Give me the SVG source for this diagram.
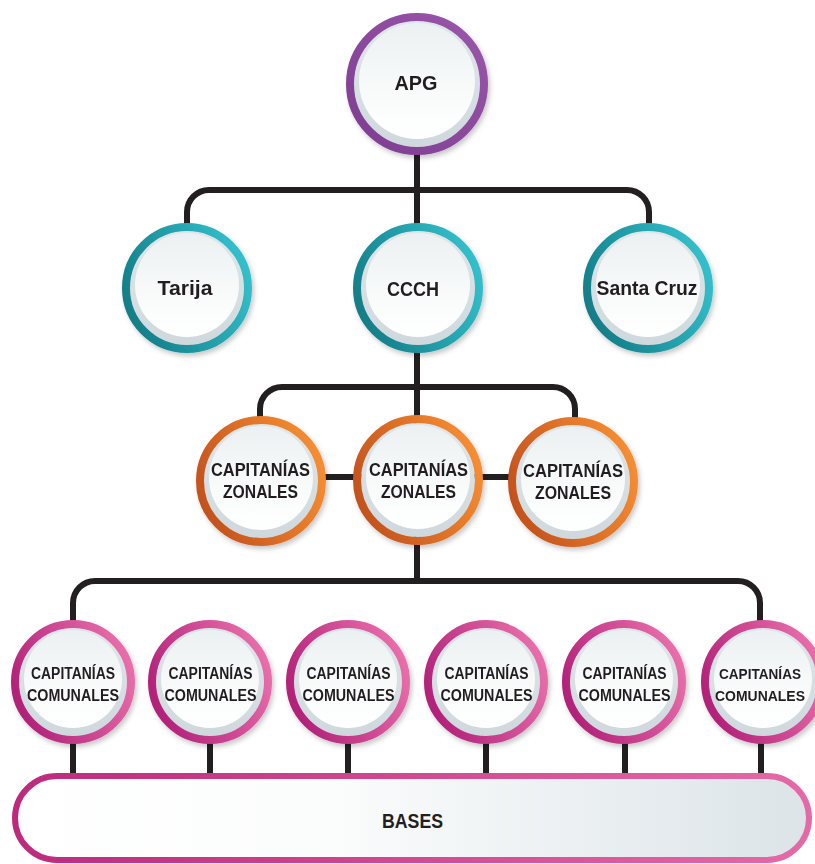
<svg xmlns="http://www.w3.org/2000/svg" width="815" height="864" viewBox="0 0 815 864">
<defs>
  <linearGradient id="gPurple" x1="0" y1="1" x2="1" y2="0">
    <stop offset="0" stop-color="#7d3d90"/><stop offset="1" stop-color="#9a56ab"/>
  </linearGradient>
  <linearGradient id="gTeal" x1="0" y1="0.7" x2="1" y2="0.3">
    <stop offset="0" stop-color="#127c86"/><stop offset="1" stop-color="#33c0cc"/>
  </linearGradient>
  <linearGradient id="gOrange" x1="0" y1="0.7" x2="1" y2="0.3">
    <stop offset="0" stop-color="#c2511d"/><stop offset="1" stop-color="#f68e32"/>
  </linearGradient>
  <linearGradient id="gMagenta" x1="0" y1="0.7" x2="1" y2="0.3">
    <stop offset="0" stop-color="#b01f78"/><stop offset="1" stop-color="#e96fab"/>
  </linearGradient>
  <linearGradient id="gBaseStroke" x1="0" y1="0" x2="1" y2="0">
    <stop offset="0" stop-color="#bd2a7d"/><stop offset="1" stop-color="#e46aa7"/>
  </linearGradient>
  <linearGradient id="gBaseFill" x1="0" y1="0" x2="1" y2="0">
    <stop offset="0" stop-color="#ffffff"/><stop offset="0.4" stop-color="#fbfcfc"/><stop offset="1" stop-color="#dce4e8"/>
  </linearGradient>
  <linearGradient id="gDisk" x1="0" y1="0" x2="0" y2="1">
    <stop offset="0" stop-color="#dfe6e9"/><stop offset="1" stop-color="#cfd9dd"/>
  </linearGradient>
  <linearGradient id="gFace" x1="0" y1="0" x2="0" y2="1">
    <stop offset="0" stop-color="#ebf0f2"/><stop offset="0.55" stop-color="#f8fafa"/><stop offset="1" stop-color="#ffffff"/>
  </linearGradient>
  <filter id="sh" x="-20%" y="-20%" width="150%" height="150%">
    <feDropShadow dx="2" dy="3" stdDeviation="2.5" flood-color="#000" flood-opacity="0.22"/>
  </filter>
</defs>
<style>
  .conn { fill: none; stroke: #231f20; stroke-width: 6; }
  .disk { fill: url(#gDisk); }
  .face { fill: url(#gFace); }
  .ring { fill: none; stroke-width: 8; }
  .purple { stroke: url(#gPurple); }
  .teal { stroke: url(#gTeal); }
  .orange { stroke: url(#gOrange); }
  .magenta { stroke: url(#gMagenta); }
  text { font-family: "Liberation Sans", Arial, sans-serif; font-weight: 700; fill: #231f20; text-anchor: middle; }
  .t1 { font-size: 21px; }
  .t2 { font-size: 19px; }
  .t3 { font-size: 16px; }
  .t4 { font-size: 15px; }
</style>
<rect width="815" height="864" fill="#ffffff"/>

<g id="connectors">
  <path class="conn" d="M417,150 V228"/>
  <path class="conn" d="M187,228 V212 a22,22 0 0 1 22,-22 H627 a22,22 0 0 1 22,22 V228"/>
  <path class="conn" d="M417,350 V584"/>
  <path class="conn" d="M260,418 V409 a22,22 0 0 1 22,-22 H553 a22,22 0 0 1 22,22 V418"/>
  <path class="conn" d="M320,477 H515"/>
  <path class="conn" d="M73,624 V603 a22,22 0 0 1 22,-22 H738 a22,22 0 0 1 22,22 V624"/>
  <path class="conn" d="M73,740 V778 M210,740 V778 M348,740 V778 M486,740 V778 M625,740 V778 M761,740 V778"/>
</g>

<g id="n-apg" filter="url(#sh)">
  <circle class="disk" cx="417" cy="84" r="63"/>
  <circle class="face" cx="417" cy="81" r="58"/>
  <circle class="ring purple" cx="417" cy="84" r="67"/>
  <text class="t1" x="416" y="90" textLength="43" lengthAdjust="spacingAndGlyphs">APG</text>
</g>

<g id="n-tarija" filter="url(#sh)">
  <circle class="disk" cx="187" cy="288" r="57"/>
  <circle class="face" cx="187" cy="285" r="52"/>
  <circle class="ring teal" cx="187" cy="288" r="61"/>
  <text class="t1" x="185" y="295" textLength="55" lengthAdjust="spacingAndGlyphs">Tarija</text>
</g>

<g id="n-ccch" filter="url(#sh)">
  <circle class="disk" cx="418" cy="288" r="57"/>
  <circle class="face" cx="418" cy="285" r="52"/>
  <circle class="ring teal" cx="418" cy="288" r="61"/>
  <text class="t1" x="413" y="296" textLength="52" lengthAdjust="spacingAndGlyphs">CCCH</text>
</g>

<g id="n-santacruz" filter="url(#sh)">
  <circle class="disk" cx="648" cy="288" r="57"/>
  <circle class="face" cx="648" cy="285" r="52"/>
  <circle class="ring teal" cx="648" cy="288" r="61"/>
  <text class="t1" x="647" y="295" textLength="101" lengthAdjust="spacingAndGlyphs">Santa Cruz</text>
</g>

<g id="n-zonal-1" filter="url(#sh)">
  <circle class="disk" cx="261" cy="481" r="57"/>
  <circle class="face" cx="261" cy="478" r="52"/>
  <circle class="ring orange" cx="261" cy="481" r="61"/>
  <text class="t2" x="260.5" y="476" textLength="99" lengthAdjust="spacingAndGlyphs">CAPITANÍAS</text>
  <text class="t2" x="260.5" y="498" textLength="75" lengthAdjust="spacingAndGlyphs">ZONALES</text>
</g>

<g id="n-zonal-2" filter="url(#sh)">
  <circle class="disk" cx="418" cy="480" r="57"/>
  <circle class="face" cx="418" cy="477" r="52"/>
  <circle class="ring orange" cx="418" cy="480" r="61"/>
  <text class="t2" x="418.5" y="476" textLength="99" lengthAdjust="spacingAndGlyphs">CAPITANÍAS</text>
  <text class="t2" x="418.5" y="498" textLength="75" lengthAdjust="spacingAndGlyphs">ZONALES</text>
</g>

<g id="n-zonal-3" filter="url(#sh)">
  <circle class="disk" cx="573" cy="482" r="57"/>
  <circle class="face" cx="573" cy="479" r="52"/>
  <circle class="ring orange" cx="573" cy="482" r="61"/>
  <text class="t2" x="573" y="477" textLength="100" lengthAdjust="spacingAndGlyphs">CAPITANÍAS</text>
  <text class="t2" x="573" y="499" textLength="76" lengthAdjust="spacingAndGlyphs">ZONALES</text>
</g>

<g id="n-comunal-1" filter="url(#sh)">
  <circle class="disk" cx="73" cy="682" r="54"/>
  <circle class="face" cx="73" cy="679" r="49"/>
  <circle class="ring magenta" cx="73" cy="682" r="58"/>
  <text class="t3" x="73" y="679" textLength="84" lengthAdjust="spacingAndGlyphs">CAPITANÍAS</text>
  <text class="t3" x="73" y="701" textLength="92" lengthAdjust="spacingAndGlyphs">COMUNALES</text>
</g>

<g id="n-comunal-2" filter="url(#sh)">
  <circle class="disk" cx="210" cy="682" r="54"/>
  <circle class="face" cx="210" cy="679" r="49"/>
  <circle class="ring magenta" cx="210" cy="682" r="58"/>
  <text class="t3" x="210.5" y="679" textLength="84" lengthAdjust="spacingAndGlyphs">CAPITANÍAS</text>
  <text class="t3" x="210.5" y="701" textLength="92" lengthAdjust="spacingAndGlyphs">COMUNALES</text>
</g>

<g id="n-comunal-3" filter="url(#sh)">
  <circle class="disk" cx="348" cy="682" r="54"/>
  <circle class="face" cx="348" cy="679" r="49"/>
  <circle class="ring magenta" cx="348" cy="682" r="58"/>
  <text class="t3" x="348.5" y="679" textLength="84" lengthAdjust="spacingAndGlyphs">CAPITANÍAS</text>
  <text class="t3" x="348.5" y="701" textLength="92" lengthAdjust="spacingAndGlyphs">COMUNALES</text>
</g>

<g id="n-comunal-4" filter="url(#sh)">
  <circle class="disk" cx="486" cy="682" r="54"/>
  <circle class="face" cx="486" cy="679" r="49"/>
  <circle class="ring magenta" cx="486" cy="682" r="58"/>
  <text class="t3" x="486.5" y="679" textLength="84" lengthAdjust="spacingAndGlyphs">CAPITANÍAS</text>
  <text class="t3" x="486.5" y="701" textLength="92" lengthAdjust="spacingAndGlyphs">COMUNALES</text>
</g>

<g id="n-comunal-5" filter="url(#sh)">
  <circle class="disk" cx="624" cy="682" r="54"/>
  <circle class="face" cx="624" cy="679" r="49"/>
  <circle class="ring magenta" cx="624" cy="682" r="58"/>
  <text class="t3" x="624.5" y="679" textLength="84" lengthAdjust="spacingAndGlyphs">CAPITANÍAS</text>
  <text class="t3" x="624.5" y="701" textLength="92" lengthAdjust="spacingAndGlyphs">COMUNALES</text>
</g>

<g id="n-comunal-6" filter="url(#sh)">
  <circle class="disk" cx="763" cy="682" r="54"/>
  <circle class="face" cx="763" cy="679" r="49"/>
  <circle class="ring magenta" cx="763" cy="682" r="58"/>
  <text class="t4" x="760" y="679" textLength="82" lengthAdjust="spacingAndGlyphs">CAPITANÍAS</text>
  <text class="t4" x="760" y="701" textLength="90" lengthAdjust="spacingAndGlyphs">COMUNALES</text>
</g>

<g id="n-bases">
  <rect x="15" y="776" width="794" height="84" rx="42" ry="42" fill="url(#gBaseFill)" stroke="url(#gBaseStroke)" stroke-width="6"/>
  <text class="t1" x="412.5" y="828" textLength="61" lengthAdjust="spacingAndGlyphs">BASES</text>
</g>
</svg>
